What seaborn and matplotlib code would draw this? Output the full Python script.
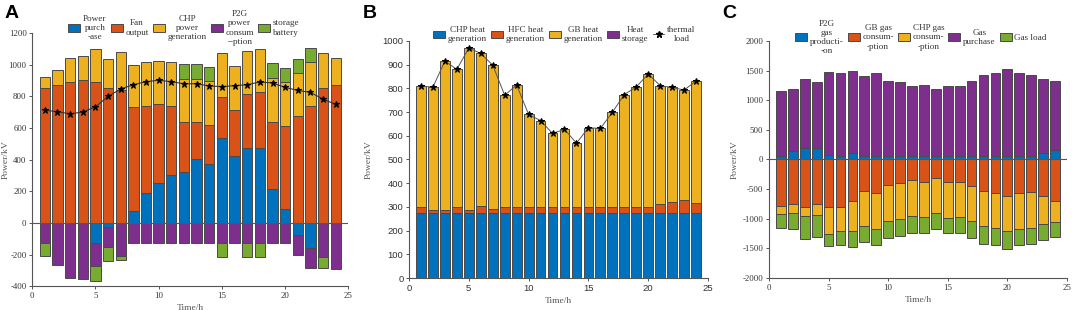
import numpy as np
import matplotlib
matplotlib.use("Agg")
import matplotlib.pyplot as plt
import seaborn as sns
from matplotlib.patches import Patch
from matplotlib.lines import Line2D

hours = list(range(1, 25))

# Panel A: electric power balance (kW per hour)
power_purchase = [0, 0, 0, 0, -125, -23, 0, 76, 188, 254, 305, 320,
                  402, 375, 540, 423, 472, 472, 216, 89, -76, -159, 0, 0]
fan_output = [851, 870, 889, 904, 889, 851, 840, 654, 551, 495, 434, 315,
              233, 247, 258, 294, 341, 353, 423, 525, 673, 739, 851, 872]
chp_power = [70, 97, 152, 154, 209, 186, 239, 269, 279, 277, 279, 277,
             277, 278, 279, 278, 277, 278, 280, 279, 277, 281, 222, 169]
p2g_power = [-125, -265, -350, -357, -150, -127, -212, -125, -125, -125, -125, -125,
             -125, -125, -125, -125, -125, -125, -125, -125, -125, -125, -215, -290]
storage_battery = [-85, 0, 0, 0, -91, -89, -21, 0, 0, 0, 0, 93,
                   93, 88, -93, 0, -93, -93, 91, 85, 87, 89, -72, 0]
electric_load = [713, 703, 690, 701, 734, 800, 847, 874, 893, 902, 893, 880,
                 880, 866, 862, 868, 874, 891, 885, 857, 838, 825, 783, 749]

# Panel B: heat balance
chp_heat = [275] * 24
hfc_heat = [25, 10, 12, 25, 14, 28, 18, 23, 23, 23, 23, 23,
            23, 23, 23, 23, 23, 23, 23, 23, 39, 46, 54, 42]
gb_heat = [510, 520, 628, 580, 681, 644, 605, 473, 516, 392, 366, 312,
           329, 271, 336, 333, 401, 476, 508, 563, 497, 483, 464, 514]
heat_storage = [0] * 24
thermal_load = [810, 805, 915, 880, 970, 947, 898, 771, 814, 690, 664, 610,
                627, 569, 634, 631, 699, 774, 806, 861, 811, 804, 793, 831]

# Panel C: gas balance
p2g_gas = [65, 140, 195, 195, 72, 65, 108, 65, 65, 65, 65, 65,
           65, 65, 65, 65, 65, 65, 65, 65, 65, 65, 112, 158]
gb_gas = [-778, -745, -801, -756, -801, -801, -694, -526, -560, -437, -403, -353,
          -375, -308, -375, -375, -442, -526, -560, -616, -560, -554, -610, -694]
chp_gas = [-146, -156, -156, -179, -453, -403, -515, -588, -605, -593, -605, -599,
           -599, -599, -605, -599, -594, -599, -599, -588, -605, -599, -476, -359]
gas_purchase = [1095, 1045, 1155, 1120, 1406, 1390, 1382, 1335, 1390, 1263, 1235, 1175,
                1185, 1121, 1183, 1180, 1263, 1360, 1393, 1453, 1393, 1367, 1250, 1162]
gas_load = [-229, -275, -381, -375, -213, -241, -269, -275, -280, -291, -285, -280,
            -269, -269, -257, -263, -285, -292, -286, -302, -280, -269, -269, -257]

COLORS = ['#0072BD', '#D95319', '#EDB120', '#7E2F8E', '#77AC30']
EDGE = '#4a4a4a'
SERIF = 'Liberation Serif'
SANS = 'Liberation Sans'

sns.set_theme(style="ticks")
plt.rcParams['font.family'] = [SERIF, 'DejaVu Sans']
plt.rcParams['axes.unicode_minus'] = False


def stacked_bars(ax, series, colors):
    pos = np.zeros(len(hours))
    neg = np.zeros(len(hours))
    x = np.array(hours)
    for vals, col in zip(series, colors):
        v = np.asarray(vals, dtype=float)
        base = np.where(v >= 0, pos, neg)
        keep = v != 0
        if keep.any():
            ax.bar(x[keep], v[keep], bottom=base[keep], width=0.82, color=col,
                   edgecolor=EDGE, linewidth=0.7, zorder=2)
        pos += np.clip(v, 0, None)
        neg += np.clip(v, None, 0)


def style_axes(ax, ylim, yticks, tick_font, tick_size, ylab_x):
    sns.despine(ax=ax)
    ax.set_xlim(0, 25)
    ax.set_xticks(range(0, 26, 5))
    ax.set_ylim(*ylim)
    ax.set_yticks(yticks)
    for sp in ('left', 'bottom'):
        ax.spines[sp].set_color('#555555')
        ax.spines[sp].set_linewidth(0.8)
    ax.tick_params(length=2.5, width=0.7, color='#555555', labelcolor='#333333',
                   labelsize=tick_size, pad=1.5)
    for t in ax.get_xticklabels() + ax.get_yticklabels():
        t.set_family(tick_font)
    ax.set_xlabel("Time/h", fontsize=6.8, color='#555555', family=SERIF, labelpad=3)
    ax.set_ylabel("Power/kV", fontsize=6.8, color='#555555', family=SERIF)
    ax.yaxis.set_label_coords(ylab_x, 0.5)
    ax.grid(False)


def top_legend(ax, handles, labels, anchor):
    leg = ax.legend(handles, labels, loc='lower center', bbox_to_anchor=anchor,
                    ncol=len(labels), frameon=False, fontsize=6.6,
                    handlelength=1.3, handleheight=0.9, handletextpad=0.3,
                    columnspacing=0.45, borderaxespad=0, borderpad=0)
    for t in leg.get_texts():
        t.set_multialignment('center')
        t.set_color('#333333')
        t.set_family(SERIF)
    return leg


fig = plt.figure(figsize=(10.72, 3.10), dpi=100)
axA = fig.add_axes([0.030, 0.077, 0.295, 0.816])
axB = fig.add_axes([0.3815, 0.103, 0.279, 0.765])
axC = fig.add_axes([0.7173, 0.103, 0.278, 0.765])

# ---- A
stacked_bars(axA, [power_purchase, fan_output, chp_power, p2g_power, storage_battery], COLORS)
axA.axhline(0, color='#555555', linewidth=0.8, zorder=3)
sns.lineplot(x=hours, y=electric_load, ax=axA, color='#333333', linewidth=0.8,
             marker='*', markersize=5, markerfacecolor='black', markeredgecolor='black', zorder=4)
style_axes(axA, (-400, 1200), range(-400, 1201, 200), SERIF, 6.3, -0.072)
labelsA = ["Power\npurch\n-ase", "Fan\noutput", "CHP\npower\ngeneration",
           "P2G\npower\nconsum\n--ption", "storage\nbattery"]
top_legend(axA, [Patch(facecolor=c, edgecolor=EDGE, linewidth=0.7) for c in COLORS],
           labelsA, (0.48, 0.95))

# ---- B
stacked_bars(axB, [chp_heat, hfc_heat, gb_heat, heat_storage], COLORS[:4])
sns.lineplot(x=hours, y=thermal_load, ax=axB, color='#555555', linewidth=0.7,
             marker='*', markersize=5, markerfacecolor='black', markeredgecolor='black', zorder=4)
style_axes(axB, (0, 1000), range(0, 1001, 100), SANS, 6.8, -0.12)
labelsB = ["CHP heat\ngeneration", "HFC heat\ngeneration", "GB heat\ngeneration",
           "Heat\nstorage", "thermal\nload"]
handlesB = [Patch(facecolor=c, edgecolor=EDGE, linewidth=0.7) for c in COLORS[:4]]
handlesB.append(Line2D([], [], color='#555555', linewidth=0.7, marker='*',
                       markersize=5, markerfacecolor='black', markeredgecolor='black'))
top_legend(axB, handlesB, labelsB, (0.52, 0.99))

# ---- C
stacked_bars(axC, [p2g_gas, gb_gas, chp_gas, gas_purchase, gas_load], COLORS)
axC.axhline(0, color='#555555', linewidth=0.8, zorder=3)
style_axes(axC, (-2000, 2000), range(-2000, 2001, 500), SERIF, 6.3, -0.1)
labelsC = ["P2G\ngas\nproducti-\n-on", "GB gas\nconsum-\n-ption", "CHP gas\nconsum-\n-ption",
           "Gas\npurchase", "Gas load"]
top_legend(axC, [Patch(facecolor=c, edgecolor=EDGE, linewidth=0.7) for c in COLORS],
           labelsC, (0.51, 0.94))

for letter, xpos in (("A", 0.004), ("B", 0.338), ("C", 0.674)):
    fig.text(xpos, 0.985, letter, fontsize=14, fontweight='bold', family=SANS,
             va='top', ha='left', color='black')

fig.savefig("out.png", dpi=100)
